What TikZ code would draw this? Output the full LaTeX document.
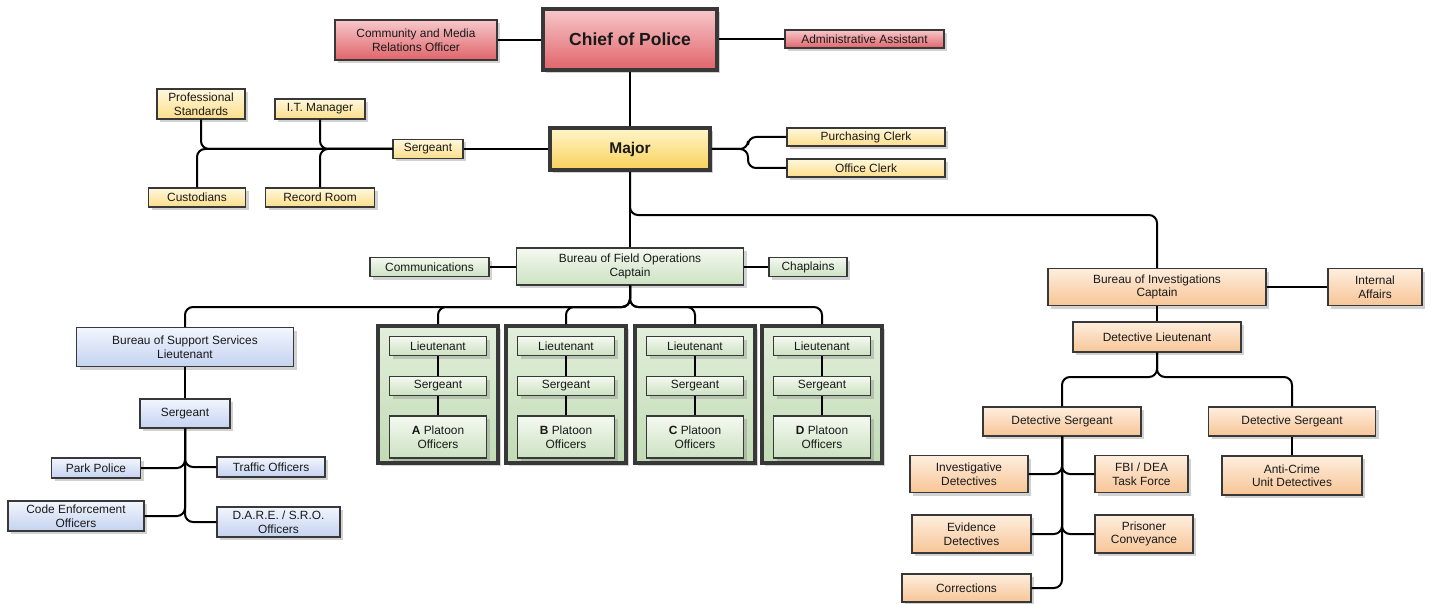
\documentclass[tikz,border=0pt]{standalone}
\usepackage{fontspec}
\setmainfont{Liberation Sans}
\usepackage{tikz}
\usetikzlibrary{shadows,positioning}
\definecolor{pdredtop}{RGB}{246,200,202}
\definecolor{pdredbot}{RGB}{224,100,106}
\definecolor{pdyeltop}{RGB}{255,248,222}
\definecolor{pdyelbot}{RGB}{252,222,138}
\definecolor{pdmajtop}{RGB}{254,246,204}
\definecolor{pdmajbot}{RGB}{250,208,88}
\definecolor{pdgrntop}{RGB}{244,249,240}
\definecolor{pdgrnbot}{RGB}{204,226,194}
\definecolor{pdplttop}{RGB}{226,239,219}
\definecolor{pdpltbot}{RGB}{192,219,180}
\definecolor{pdblutop}{RGB}{242,245,253}
\definecolor{pdblubot}{RGB}{196,211,241}
\definecolor{pdortop}{RGB}{254,238,222}
\definecolor{pdorbot}{RGB}{247,197,150}
\tikzstyle{link} = [line width=2pt, rounded corners=8pt, color=black]
\tikzstyle{unit} = [rectangle, draw=black!78, line width=1.3pt, text centered, align=center, inner sep=0pt, text=black!90, font=\fontsize{11.9}{13.5}\selectfont, drop shadow={shadow xshift=3pt, shadow yshift=-3pt, opacity=0.35}]
\tikzstyle{headunit} = [line width=3.6pt, font=\fontsize{15.5}{18}\selectfont\bfseries]
\tikzstyle{redunit} = [unit, top color=pdredtop, bottom color=pdredbot]
\tikzstyle{yelunit} = [unit, top color=pdyeltop, bottom color=pdyelbot]
\tikzstyle{majunit} = [unit, top color=pdmajtop, bottom color=pdmajbot]
\tikzstyle{grnunit} = [unit, top color=pdgrntop, bottom color=pdgrnbot]
\tikzstyle{bluunit} = [unit, top color=pdblutop, bottom color=pdblubot]
\tikzstyle{orunit} = [unit, top color=pdortop, bottom color=pdorbot]
\tikzstyle{platoon} = [unit, line width=3.8pt, top color=pdplttop, bottom color=pdpltbot, minimum width=120pt, minimum height=137pt]
\tikzstyle{rank} = [grnunit, minimum width=97pt, minimum height=19pt]

\begin{document}
\begin{tikzpicture}[x=1pt,y=-1pt]
\path[fill=white] (0,0) rectangle (1434,604);
\useasboundingbox (0,0) rectangle (1434,604);

% Chief and staff
\node (chief) [redunit, headunit, font=\fontsize{17.5}{20}\selectfont\bfseries, minimum width=174pt, minimum height=61pt] at (630,39.5) {Chief of Police};
\node (media) [redunit, minimum width=162pt, minimum height=40pt] at (416,40) {Community and Media\\Relations Officer};
\node (admin) [redunit, minimum width=159pt, minimum height=18pt] at (864.5,39) {Administrative Assistant};

% Major and staff
\node (major) [majunit, headunit, minimum width=160pt, minimum height=42pt] at (630,149) {Major};
\node (msgt) [yelunit, minimum width=70pt, minimum height=19pt] at (428,149) {Sergeant};
\node (profstd) [yelunit, minimum width=88pt, minimum height=30pt] at (201,104) {Professional\\Standards};
\node (itmgr) [yelunit, minimum width=90pt, minimum height=20pt] at (320,109) {I.T. Manager};
\node (custod) [yelunit, minimum width=97pt, minimum height=19pt] at (197,197.5) {Custodians};
\node (record) [yelunit, minimum width=109pt, minimum height=19pt] at (320,197.5) {Record Room};
\node (purch) [yelunit, minimum width=158pt, minimum height=18pt] at (866,137) {Purchasing Clerk};
\node (office) [yelunit, minimum width=158pt, minimum height=18pt] at (866,168) {Office Clerk};

\draw[link] (media.east) -- (media.east -| chief.west);
\draw[link] (chief.east |- admin.west) -- (admin.west);
\draw[link] (chief.south) -- (major.north);
\draw[link] (major.west) -- (msgt.east);
\draw[link] (profstd.south) |- (msgt.west);
\draw[link] (custod.north) |- (msgt.west);
\draw[link] (itmgr.south) |- (msgt.west);
\draw[link] (record.north) |- (msgt.west);
\coordinate (mjr) at (748,149);
\draw[link] (major.east) -- (mjr) |- (purch.west);
\draw[link] (major.east) -- (mjr) |- (office.west);

% Bureau of Field Operations
\node (bfo) [grnunit, minimum width=227pt, minimum height=37pt] at (630,266.5) {Bureau of Field Operations\\Captain};
\node (comm) [grnunit, minimum width=119pt, minimum height=19pt] at (429.5,267) {Communications};
\node (chap) [grnunit, minimum width=78pt, minimum height=19pt] at (808,267) {Chaplains};
\coordinate (mjd) at (630,215);
\draw[link] (major.south) -- (bfo.north);
\draw[link] (bfo.west |- comm.east) -- (comm.east);
\draw[link] (bfo.east |- chap.west) -- (chap.west);

% Platoons
\node (platA) [platoon] at (438,394.5) {};
\node (ltA) [rank] at (438,346) {Lieutenant};
\node (sgA) [rank] at (438,386) {Sergeant};
\node (poA) [rank, minimum height=42pt] at (438,437) {\textbf{A} Platoon\\Officers};
\node (platB) [platoon] at (566,394.5) {};
\node (ltB) [rank] at (566,346) {Lieutenant};
\node (sgB) [rank] at (566,386) {Sergeant};
\node (poB) [rank, minimum height=42pt] at (566,437) {\textbf{B} Platoon\\Officers};
\node (platC) [platoon] at (695,394.5) {};
\node (ltC) [rank] at (695,346) {Lieutenant};
\node (sgC) [rank] at (695,386) {Sergeant};
\node (poC) [rank, minimum height=42pt] at (695,437) {\textbf{C} Platoon\\Officers};
\node (platD) [platoon] at (822,394.5) {};
\node (ltD) [rank] at (822,346) {Lieutenant};
\node (sgD) [rank] at (822,386) {Sergeant};
\node (poD) [rank, minimum height=42pt] at (822,437) {\textbf{D} Platoon\\Officers};

\draw[link] (ltA) -- (sgA); \draw[link] (sgA) -- (poA);
\draw[link] (ltB) -- (sgB); \draw[link] (sgB) -- (poB);
\draw[link] (ltC) -- (sgC); \draw[link] (sgC) -- (poC);
\draw[link] (ltD) -- (sgD); \draw[link] (sgD) -- (poD);

% Bureau of Support Services
\node (bss) [bluunit, minimum width=217pt, minimum height=39pt] at (185,347) {Bureau of Support Services\\Lieutenant};
\node (bsgt) [bluunit, minimum width=90pt, minimum height=29pt] at (185,413.5) {Sergeant};
\node (park) [bluunit, minimum width=89pt, minimum height=20pt] at (96,468) {Park Police};
\node (traffic) [bluunit, minimum width=108pt, minimum height=20pt] at (271,467) {Traffic Officers};
\node (code) [bluunit, minimum width=136pt, minimum height=30pt] at (76,516) {Code Enforcement\\Officers};
\node (dare) [bluunit, minimum width=123pt, minimum height=30pt] at (278.5,522) {D.A.R.E. / S.R.O.\\Officers};

\coordinate (bfj) at (630,307);
\draw[link] (bfo.south) -- (bfj) -| (bss.north);
\draw[link] (bfo.south) -- (bfj) -| (platA.north);
\draw[link] (bfo.south) -- (bfj) -| (platB.north);
\draw[link] (bfo.south) -- (bfj) -| (platC.north);
\draw[link] (bfo.south) -- (bfj) -| (platD.north);
\draw[link] (bss) -- (bsgt);
\draw[link] (park.east) -| (bsgt.south);
\draw[link] (traffic.west) -| (bsgt.south);
\draw[link] (code.east) -| (bsgt.south);
\draw[link] (dare.west) -| (bsgt.south);

% Bureau of Investigations
\node (bio) [orunit, minimum width=218pt, minimum height=37pt] at (1157,287) {Bureau of Investigations\\Captain};
\node (ia) [orunit, minimum width=94pt, minimum height=37pt] at (1375,287) {Internal\\Affairs};
\node (dlt) [orunit, minimum width=168pt, minimum height=30pt] at (1157,337) {Detective Lieutenant};
\node (ds1) [orunit, minimum width=158pt, minimum height=29pt] at (1062,421.5) {Detective Sergeant};
\node (ds2) [orunit, minimum width=167pt, minimum height=29pt] at (1292,421.5) {Detective Sergeant};
\node (acu) [orunit, minimum width=140pt, minimum height=39pt] at (1292,475.5) {Anti-Crime\\Unit Detectives};
\node (inv) [orunit, minimum width=118pt, minimum height=37pt] at (969,474) {Investigative\\Detectives};
\node (fbi) [orunit, minimum width=93pt, minimum height=37pt] at (1141.5,474) {FBI / DEA\\Task Force};
\node (evid) [orunit, minimum width=119pt, minimum height=38pt] at (971.5,534) {Evidence\\Detectives};
\node (prison) [orunit, minimum width=98pt, minimum height=38pt] at (1144,534) {Prisoner\\Conveyance};
\node (corr) [orunit, minimum width=129pt, minimum height=28pt] at (966.5,588) {Corrections};

\draw[link] (major.south) -- (mjd) -| (bio.north);
\draw[link] (bio.east) -- (ia.west);
\draw[link] (bio) -- (dlt);
\coordinate (dlj) at (1157,377);
\draw[link] (dlt.south) -- (dlj) -| (ds1.north);
\draw[link] (dlt.south) -- (dlj) -| (ds2.north);
\draw[link] (ds2) -- (acu);
\draw[link] (inv.east) -| (ds1.south);
\draw[link] (fbi.west) -| (ds1.south);
\draw[link] (evid.east) -| (ds1.south);
\draw[link] (prison.west) -| (ds1.south);
\draw[link] (corr.east) -| (ds1.south);
\end{tikzpicture}
\end{document}
